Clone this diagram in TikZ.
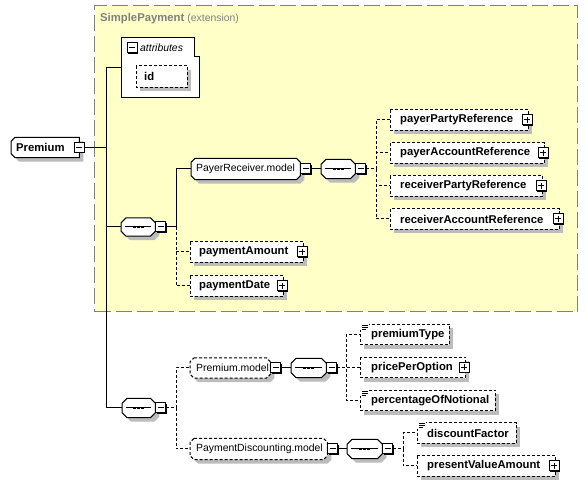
\documentclass[tikz,border=0pt]{standalone}
\usepackage{fontspec}
\setmainfont{Liberation Sans}
\usetikzlibrary{calc,shadows}
\pgfdeclarelayer{back}
\pgfdeclarelayer{bg}
\pgfsetlayers{back,bg,main}
\definecolor{ylw}{HTML}{FFFFC8}
\definecolor{shd}{HTML}{BCBCBC}
\definecolor{ttl}{HTML}{808080}
\newcommand\fbold{\fontsize{11.3}{13}\selectfont\bfseries}
\newcommand\freg{\fontsize{10.4}{12}\selectfont\mdseries}
\newcommand\tb[3]{\makebox[#1pt][l]{\hspace{#2pt}#3}}
\newcommand\prect[1]{(#1.north west) rectangle (#1.south east)}
\newcommand\poct[2]{([xshift=#2]#1.north west) -- ([xshift=-#2]#1.north east) -- ([yshift=-#2]#1.north east) -- ([yshift=#2]#1.south east) -- ([xshift=-#2]#1.south east) -- ([xshift=#2]#1.south west) -- ([yshift=#2]#1.south west) -- ([yshift=-#2]#1.north west) -- cycle}
\newcommand\plch[2]{([xshift=#2]#1.north west) -- (#1.north east) -- (#1.south east) -- ([xshift=#2]#1.south west) -- ([yshift=#2]#1.south west) -- ([yshift=-#2]#1.north west) -- cycle}
\newcommand\shp[2]{\begin{pgfonlayer}{bg}\filldraw[fill=white, line width=1pt, boxshadow, #1] #2;\end{pgfonlayer}}
\newcommand\seqglyph[1]{\draw[line width=1pt] ([xshift=4pt]#1.west) -- ([xshift=-4pt]#1.east);
  \foreach \dd in {-4,0,4} {\fill ([xshift=\dd pt]#1.center) +(-1.4,-1.4) rectangle +(1.4,1.4);}}
\newcommand\simpicon[1]{\fill[white] ([xshift=-0.7pt,yshift=0.7pt]#1.north west) rectangle ([xshift=9pt,yshift=-6pt]#1.north west);
  \foreach \yy/\ll in {1/6,3/6,5/4} {\draw[line width=0.8pt] ([xshift=2pt,yshift=-\yy pt]#1.north west) -- ++(\ll,0);}}
\newcommand\leaf[5]{\node[box, font=\fbold, minimum height=20pt] (#1) at (#2) {\tb{#3}{#4}{#5}};
  \shp{dbox}{\prect{#1}}}
\tikzset{
  conn/.style={line width=1pt},
  dconn/.style={line width=1pt, dash pattern=on 3pt off 2pt},
  dbox/.style={dash pattern=on 3pt off 2pt},
  boxshadow/.style={general shadow={fill=shd, shadow xshift=4pt, shadow yshift=-4pt}},
  box/.style={inner sep=0pt, anchor=west},
  pmbox/.style={draw, fill=white, minimum size=10pt, inner sep=0pt, line width=1pt, anchor=center,
    general shadow={fill=black, shadow xshift=1pt, shadow yshift=-1pt}},
  minusbox/.style={pmbox, path picture={\draw[line width=1pt] ([xshift=2pt]path picture bounding box.west) -- ([xshift=-2pt]path picture bounding box.east);}},
  plusbox/.style={pmbox, path picture={\draw[line width=1pt] ([xshift=2pt]path picture bounding box.west) -- ([xshift=-2pt]path picture bounding box.east) ([yshift=2pt]path picture bounding box.south) -- ([yshift=-2pt]path picture bounding box.north);}},
}
\begin{document}
\begin{tikzpicture}[x=1pt,y=-1pt]
\useasboundingbox (0,0) rectangle (587,486);
% extension container
\begin{pgfonlayer}{back}
\node[draw=ttl, fill=ylw, line width=1.3pt, dash pattern=on 16pt off 5pt, minimum width=483pt, minimum height=306pt, inner sep=0pt, anchor=north west] (sp) at (94,5) {};
\end{pgfonlayer}
\node[anchor=west, inner sep=0pt, text=ttl] (spt) at (100,19) {\fbold SimplePayment \freg(extension)};
% Premium
\node[box, font=\fbold, minimum height=20pt] (prem) at (11,147.5) {\tb{68}{5}{Premium}};
\shp{}{\plch{prem}{4pt}}
\node[minusbox] (premm) at (prem.east) {};
% attributes
\node[box, minimum width=78pt, minimum height=59pt] (attr) at (121,67.5) {};
\begin{pgfonlayer}{bg}
\filldraw[fill=white, line width=1pt] (attr.north west) -- ([xshift=-5pt]attr.north east) -- ([xshift=-5pt,yshift=-19pt]attr.north east) -- ([yshift=-19pt]attr.north east) -- (attr.south east) -- (attr.south west) -- cycle;
\end{pgfonlayer}
\node[minusbox] (attrm) at (132,48) {};
\node[anchor=west, inner sep=0pt, font=\freg\itshape] (attrl) at (140,47.5) {attributes};
\node[box, font=\fbold, minimum height=21pt] (id) at (136,76.5) {\tb{51}{8}{id}};
\shp{dbox}{\prect{id}}
% sequence 1
\node[box, minimum width=34pt, minimum height=18pt] (s1) at (121,227) {};
\shp{}{\poct{s1}{5pt}}
\seqglyph{s1}
\node[minusbox, anchor=west] (s1m) at (s1.east) {};
% PayerReceiver.model
\node[box, font=\freg, minimum height=21pt] (prm) at (191,169) {\tb{109}{5}{PayerReceiver.model}};
\shp{}{\poct{prm}{4pt}}
\node[minusbox, anchor=west] (prmm) at (prm.east) {};
\node[box, minimum width=34pt, minimum height=19pt] (s2) at (321,169) {};
\shp{}{\poct{s2}{5pt}}
\seqglyph{s2}
\node[minusbox, anchor=west] (s2m) at (s2.east) {};
\leaf{ppr}{390,120}{138}{10}{payerPartyReference}
\node[plusbox] (pprp) at ([xshift=-1pt]ppr.east) {};
\leaf{par}{390,153}{154}{10}{payerAccountReference}
\node[plusbox] (parp) at ([xshift=-1pt]par.east) {};
\leaf{rpr}{390,186}{152}{10}{receiverPartyReference}
\node[plusbox] (rprp) at ([xshift=-1pt]rpr.east) {};
\leaf{rar}{390,219}{169}{10}{receiverAccountReference}
\node[plusbox] (rarp) at ([xshift=-1pt]rar.east) {};
\leaf{pa}{190,252}{113}{9}{paymentAmount}
\node[plusbox] (pap) at ([xshift=-1pt]pa.east) {};
\leaf{pd}{190,286}{93}{9}{paymentDate}
\node[plusbox] (pdp) at ([xshift=-1pt]pd.east) {};
% sequence 3
\node[box, minimum width=33pt, minimum height=19pt] (s3) at (122,408) {};
\shp{}{\poct{s3}{5pt}}
\seqglyph{s3}
\node[minusbox, anchor=west] (s3m) at (s3.east) {};
% Premium.model
\node[box, font=\freg, minimum height=20pt] (pm) at (190,368) {\tb{80}{6}{Premium.model}};
\shp{dbox}{\poct{pm}{4pt}}
\node[minusbox, anchor=west] (pmm) at (pm.east) {};
\node[box, minimum width=35pt, minimum height=19pt] (s4) at (291,368) {};
\shp{}{\poct{s4}{5pt}}
\seqglyph{s4}
\node[minusbox, anchor=west] (s4m) at (s4.east) {};
\leaf{pt}{360,334.5}{89}{11}{premiumType}
\simpicon{pt}
\leaf{ppo}{360,367.5}{105}{11}{pricePerOption}
\node[plusbox] (ppop) at ([xshift=-1pt]ppo.east) {};
\leaf{pon}{360,400.5}{135}{11}{percentageOfNotional}
\simpicon{pon}
% PaymentDiscounting.model
\node[box, font=\freg, minimum height=21pt] (pdm) at (190,449) {\tb{137}{6}{PaymentDiscounting.model}};
\shp{dbox}{\poct{pdm}{4pt}}
\node[minusbox, anchor=west] (pdmm) at (pdm.east) {};
\node[box, minimum width=35pt, minimum height=19pt] (s5) at (347,449) {};
\shp{}{\poct{s5}{5pt}}
\seqglyph{s5}
\node[minusbox, anchor=west] (s5m) at (s5.east) {};
\leaf{df}{417,433}{99}{10}{discountFactor}
\simpicon{df}
\leaf{pva}{417,466}{138}{10}{presentValueAmount}
\node[plusbox] (pvap) at ([xshift=-1pt]pva.east) {};
% connectors
\coordinate (tk) at (106,147.5);
\draw[conn] (premm.east) -- (tk);
\draw[conn] (tk |- attr.west) -- (tk |- s3.west);
\draw[conn] (tk |- attr.west) -- (attr.west);
\draw[conn] (tk |- s1.west) -- (s1.west);
\draw[conn] (tk |- s3.west) -- (s3.west);
\draw[conn] (s1m.east) -- ++(10,0) |- (prm.west);
\foreach \c in {pa,pd} {\draw[dconn] ([xshift=10pt]s1m.east) |- (\c.west);}
\draw[conn] (prmm.east) -- (s2.west);
\foreach \c in {ppr,par,rpr,rar} {\draw[dconn] (s2m.east) -- ++(10,0) |- (\c.west);}
\foreach \c in {pm,pdm} {\draw[dconn] (s3m.east) -- ++(10,0) |- (\c.west);}
\draw[conn] (pmm.east) -- (s4.west);
\foreach \c in {pt,ppo,pon} {\draw[dconn] (s4m.east) -- ++(9,0) |- (\c.west);}
\draw[conn] (pdmm.east) -- (s5.west);
\foreach \c in {df,pva} {\draw[dconn] (s5m.east) -- ++(10,0) |- (\c.west);}
\end{tikzpicture}
\end{document}
